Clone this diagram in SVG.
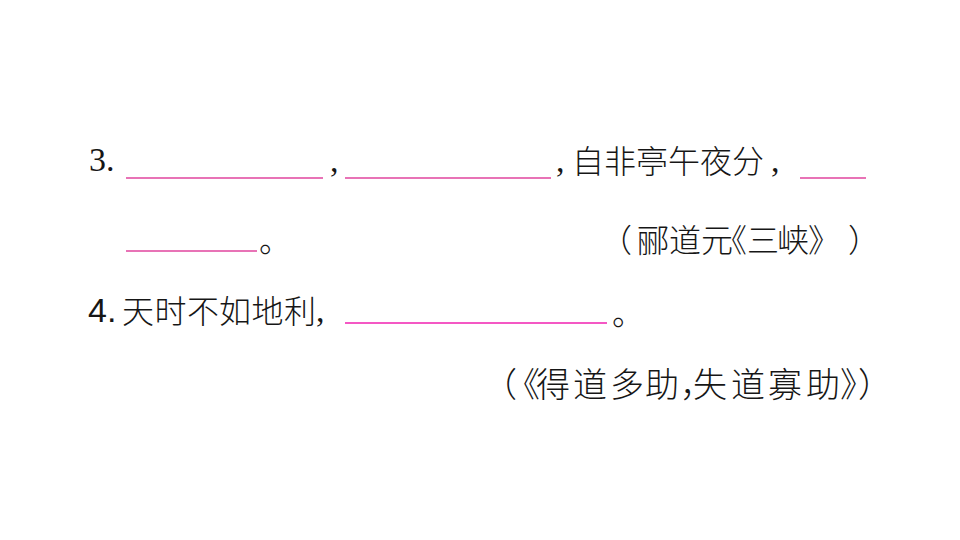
<svg xmlns="http://www.w3.org/2000/svg" width="960" height="540" viewBox="0 0 960 540">
<style>
.cjk{font-family:"Noto Sans CJK SC","Noto Sans CJK TC",sans-serif;font-size:32px;fill:#161616;font-weight:300}
.ser{font-family:"Liberation Serif","Times New Roman",serif;font-size:34px;fill:#161616}
.san{font-family:"Liberation Sans",Arial,sans-serif;font-size:34px;fill:#161616}
.u1{stroke:#e0449e;stroke-width:1.6}
.u2{stroke:#f020b0;stroke-width:1.6}
</style>
<rect width="960" height="540" fill="#ffffff"/>
<g id="q3-line1">
<text class="ser" x="89" y="171">3.</text>
<line class="u1" x1="126" y1="178" x2="323" y2="178"/>
<text class="ser" x="330" y="172">,</text>
<line class="u1" x1="345" y1="178" x2="551" y2="178"/>
<text class="ser" x="556" y="172">,</text>
<text class="cjk" x="572 604 636 668 700 732" y="173">自非亭午夜分</text>
<text class="ser" x="771" y="172">,</text>
<line class="u1" x1="800" y1="178" x2="866" y2="178"/>
</g>
<g id="q3-line2">
<line class="u1" x1="126" y1="251" x2="257" y2="251"/>
<text class="cjk" x="259" y="252">。</text>
<text class="cjk" x="600 637 669 701 715 747 777 808 848" y="252">（郦道元《三峡》）</text>
</g>
<g id="q4-line1">
<text class="san" x="88" y="322">4.</text>
<text class="cjk" x="122 154.5 187 219 251.5 284" y="323">天时不如地利</text>
<text class="ser" x="316" y="322">,</text>
<line class="u2" x1="345" y1="323" x2="607" y2="323"/>
<text class="cjk" x="612" y="325">。</text>
</g>
<g id="q4-line2">
<text class="cjk" style="font-size:34px" x="483 506 536 573 610 645 680 693 731 768 806 840 858" y="397">（《得道多助，失道寡助》）</text>
</g>
</svg>
